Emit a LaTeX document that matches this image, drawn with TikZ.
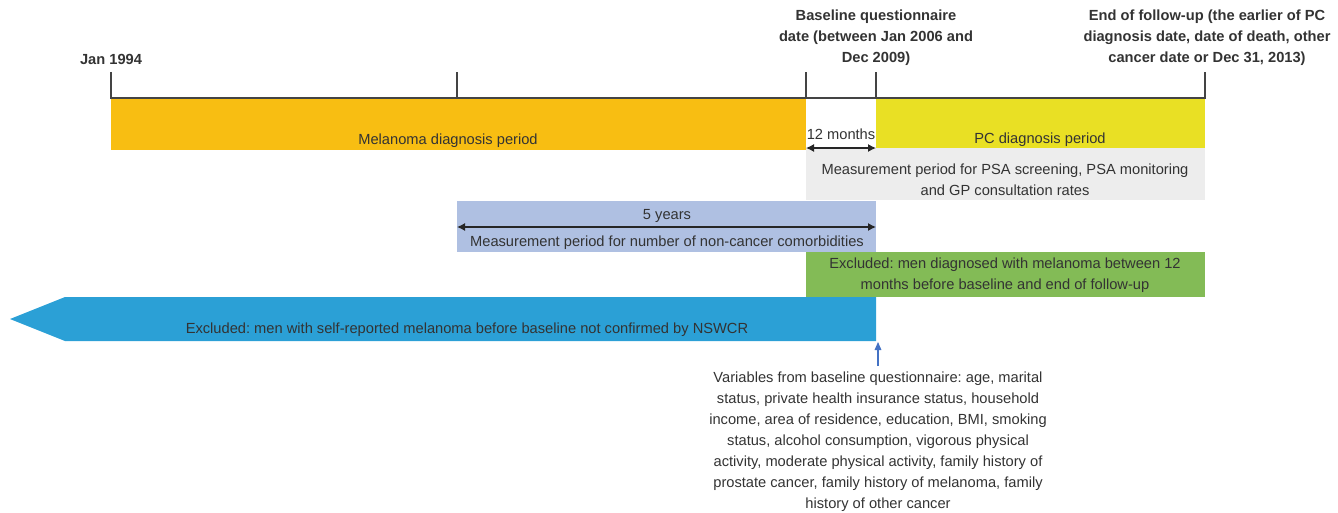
\documentclass[tikz,border=0pt]{standalone}
\usepackage{fontspec}
\setmainfont{Liberation Sans}
\usetikzlibrary{arrows.meta}
\frenchspacing

\definecolor{melorange}{HTML}{F8BE12}
\definecolor{pcyellow}{HTML}{E9E024}
\definecolor{psagray}{HTML}{EDEDED}
\definecolor{comorbblue}{HTML}{AFC0E2}
\definecolor{exclgreen}{HTML}{83BB56}
\definecolor{exclblue}{HTML}{2BA0D6}
\definecolor{txtgray}{HTML}{333333}
\definecolor{linegray}{HTML}{444444}
\definecolor{pointer}{HTML}{4472C4}

\begin{document}
\begin{tikzpicture}[x=0.75pt,y=-0.75pt,
    txt/.style={font=\fontsize{11}{15.8}\selectfont, text=txtgray, align=center, inner sep=0pt},
    toplbl/.style={font=\bfseries\fontsize{11}{15.8}\selectfont, text=txtgray, align=center, inner sep=0pt},
    span/.style={{Latex[length=6pt,width=6pt]}-{Latex[length=6pt,width=6pt]}, line width=0.9pt, black!85}]
\useasboundingbox (0,0) rectangle (1338,513);

% time points on the axis
\coordinate (start) at (111,98);
\coordinate (minus5) at (457,98);
\coordinate (minus12) at (806,98);
\coordinate (baseline) at (876,98);
\coordinate (endfu) at (1205,98);

% coloured periods
\fill[melorange] (start) rectangle (806,150);
\fill[pcyellow] (baseline) rectangle (1205,148);
\fill[psagray] (806,148) rectangle (1205,200);
\fill[comorbblue] (457,201) rectangle (876,252);
\fill[exclgreen] (806,252) rectangle (1205,297);
\fill[exclblue] (10,319) -- (65,297) -- (876,297) -- (876,341) -- (65,341) -- cycle;

% axis and ticks
\draw[linegray, line width=1.1pt] (111,72) -- (start) -- (endfu) -- (1205,72);
\foreach \t in {minus5, minus12, baseline}
    \draw[linegray, line width=1.1pt] (\t) -- ++(0,-26);

% labels above the axis
\node[toplbl] (jan) at (111,59) {Jan 1994};
\node[toplbl] (bq) at (876,38) {Baseline questionnaire\\date (between Jan 2006 and\\Dec 2009)};
\node[toplbl] (eofu) at (1207,38) {End of follow-up (the earlier of PC\\diagnosis date, date of death, other\\cancer date or Dec 31, 2013)};

% texts in the bars
\node[txt] (mel) at (448,141) {Melanoma diagnosis period};
\node[txt] (pc) at (1040,140) {PC diagnosis period};
\node[txt] (twelve) at (841,134) {12 months};
\node[txt] (psa) at (1005,180) {Measurement period for PSA screening, PSA monitoring\\and GP consultation rates};
\node[txt] (five) at (667,215.5) {5 years};
\node[txt] (comorb) at (667,242.5) {Measurement period for number of non-cancer comorbidities};
\node[txt] (exmel) at (1005,275.5) {Excluded: men diagnosed with melanoma between 12\\months before baseline and end of follow-up};
\node[txt] (exself) at (467,330) {Excluded: men with self-reported melanoma before baseline not confirmed by NSWCR};
\node[txt] (vars) at (878,442) {Variables from baseline questionnaire: age, marital\\status, private health insurance status, household\\income, area of residence, education, BMI, smoking\\status, alcohol consumption, vigorous physical\\activity, moderate physical activity, family history of\\prostate cancer, family history of melanoma, family\\history of other cancer};

% interval arrows
\coordinate (m12a) at (806,148);
\coordinate (m12b) at (876,148);
\draw[span] (m12a) -- (m12b);
\coordinate (y5a) at (457,227);
\coordinate (y5b) at (876,227);
\draw[span] (y5a) -- (y5b);

% pointer to baseline
\coordinate (ptr) at (878,342);
\coordinate (ptrfoot) at (878,366);
\draw[pointer, line width=0.8pt, -{Triangle[length=6pt,width=5pt]}] (ptrfoot) -- (ptr);
\end{tikzpicture}
\end{document}
